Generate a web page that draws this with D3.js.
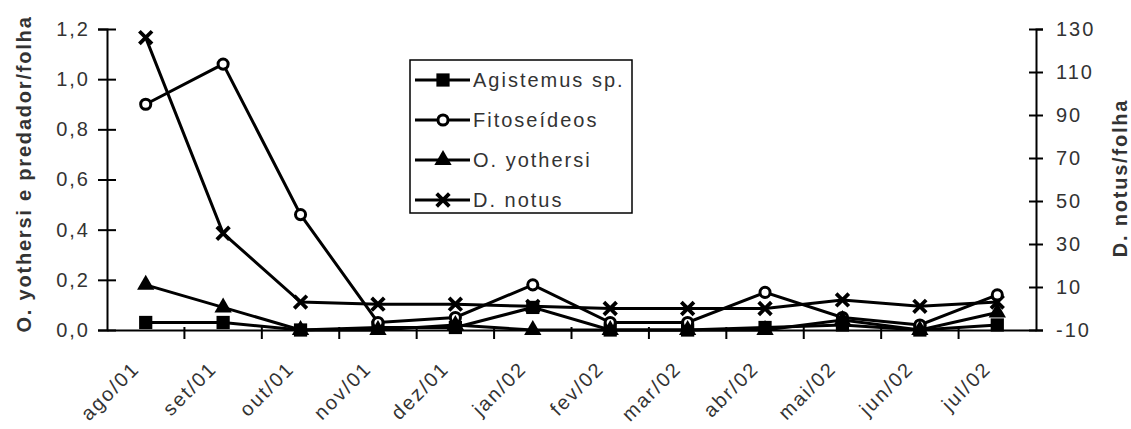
<!DOCTYPE html>
<html>
<head>
<meta charset="utf-8">
<script src="https://cdn.jsdelivr.net/npm/d3@7"></script>
<style>
  body { margin: 0; background: #fff; }
  text { font-family: "Liberation Sans", Arial, sans-serif; fill: #333; }
</style>
</head>
<body>
<script>
const width = 1131;
const height = 429;

const months = ["ago/01", "set/01", "out/01", "nov/01", "dez/01", "jan/02",
  "fev/02", "mar/02", "abr/02", "mai/02", "jun/02", "jul/02"];
const agistemus = [0.03, 0.03, 0.00, 0.01, 0.01, 0.09, 0.00, 0.00, 0.01, 0.02, 0.00, 0.02];
const fitoseideos = [0.90, 1.06, 0.46, 0.03, 0.05, 0.18, 0.03, 0.03, 0.15, 0.05, 0.02, 0.14];
const yothersi = [0.18, 0.09, 0.00, 0.00, 0.02, 0.00, 0.00, 0.00, 0.00, 0.04, 0.00, 0.07];
const notus = [126, 35, 3, 2, 2, 1, 0, 0, 0, 4, 1, 3];
const leftTicks = [0, 0.2, 0.4, 0.6, 0.8, 1.0, 1.2];
const rightTicks = [-10, 10, 30, 50, 70, 90, 110, 130];
const seriesNames = ["Agistemus sp.", "Fitoseídeos", "O. yothersi", "D. notus"];

const plotLeft = 107, plotRight = 1036, plotTop = 29, plotBottom = 330;

const svg = d3.select("body")
  .append("svg")
  .attr("width", width)
  .attr("height", height);

const x = d3.scaleBand().domain(months).range([plotLeft, plotRight]).padding(0);
const yL = d3.scaleLinear().domain([0, 1.2]).range([plotBottom, plotTop]);
const yR = d3.scaleLinear().domain([-10, 130]).range([plotBottom, plotTop]);
const cx = m => x(m) + x.bandwidth() / 2;

// custom X marker
const symbolX = {
  draw(ctx, size) {
    const r = Math.sqrt(size) / 2;
    ctx.moveTo(-r, -r); ctx.lineTo(r, r);
    ctx.moveTo(r, -r); ctx.lineTo(-r, r);
  }
};

const markers = {
  "Agistemus sp.": { path: d3.symbol(d3.symbolSquare, 175)(), fill: "#000", stroke: "none", sw: 0 },
  "Fitoseídeos": { path: d3.symbol(d3.symbolCircle, 80)(), fill: "#fff", stroke: "#000", sw: 3 },
  "O. yothersi": { path: d3.symbol(d3.symbolTriangle, 130)(), fill: "#000", stroke: "none", sw: 0 },
  "D. notus": { path: d3.symbol(symbolX, 160)(), fill: "none", stroke: "#000", sw: 3.8 }
};

const labelStyle = sel => sel
  .style("font-size", "20px")
  .style("letter-spacing", "2px")
  .style("font-family", "'Liberation Sans', Arial, sans-serif")
  .attr("fill", "#333");

// x axis
const xAxis = svg.append("g")
  .attr("transform", `translate(0,${plotBottom})`)
  .call(d3.axisBottom(x).tickSize(0).tickPadding(0));
xAxis.select(".domain").attr("stroke", "#000").attr("stroke-width", 2);
xAxis.selectAll("text")
  .attr("y", 0)
  .attr("dy", "0.35em")
  .attr("text-anchor", "end")
  .attr("transform", "translate(-10,35) rotate(-45)")
  .call(labelStyle);

svg.append("g")
  .selectAll("line")
  .data(months.slice(1))
  .join("line")
  .attr("x1", d => x(d)).attr("x2", d => x(d))
  .attr("y1", plotBottom - 3).attr("y2", plotBottom + 9)
  .attr("stroke", "#000").attr("stroke-width", 2);

// left axis
const fmt = d3.format(".1f");
const axL = svg.append("g")
  .attr("transform", `translate(${plotLeft},0)`)
  .call(d3.axisLeft(yL).tickValues(leftTicks).tickSize(9).tickPadding(8)
    .tickFormat(d => fmt(d).replace(".", ",")));
axL.select(".domain").attr("stroke", "#000").attr("stroke-width", 2);
axL.selectAll(".tick line").attr("x1", 9).attr("stroke", "#000").attr("stroke-width", 2);
axL.selectAll("text").call(labelStyle);

// right axis
const axR = svg.append("g")
  .attr("transform", `translate(${plotRight},0)`)
  .call(d3.axisRight(yR).tickValues(rightTicks).tickSize(7).tickPadding(13)
    .tickFormat(d => String(d)));
axR.select(".domain").attr("stroke", "#000").attr("stroke-width", 2);
axR.selectAll(".tick line").attr("x1", -7).attr("stroke", "#000").attr("stroke-width", 2);
axR.selectAll("text").call(labelStyle);

// axis titles
svg.append("text")
  .attr("transform", "translate(31,174) rotate(-90)")
  .attr("text-anchor", "middle")
  .style("font-size", "20px").style("font-weight", "bold").style("letter-spacing", "1.8px")
  .text("O. yothersi e predador/folha");

svg.append("text")
  .attr("transform", "translate(1127,178) rotate(-90)")
  .attr("text-anchor", "middle")
  .style("font-size", "20px").style("font-weight", "bold").style("letter-spacing", "1.8px")
  .text("D. notus/folha");

// series: secondary axis drawn first, primary on top
const series = [
  { name: "D. notus", values: notus, y: yR },
  { name: "Agistemus sp.", values: agistemus, y: yL },
  { name: "Fitoseídeos", values: fitoseideos, y: yL },
  { name: "O. yothersi", values: yothersi, y: yL }
];

series.forEach(s => {
  const pts = months.map((m, i) => [cx(m), s.y(s.values[i])]);
  svg.append("path")
    .datum(pts)
    .attr("fill", "none")
    .attr("stroke", "#000")
    .attr("stroke-width", 3)
    .attr("d", d3.line());
  const mk = markers[s.name];
  svg.append("g")
    .selectAll("path")
    .data(pts)
    .join("path")
    .attr("transform", d => `translate(${d[0]},${d[1]})`)
    .attr("d", mk.path)
    .attr("fill", mk.fill)
    .attr("stroke", mk.stroke)
    .attr("stroke-width", mk.sw);
});

// legend
const legend = svg.append("g");
legend.append("rect")
  .attr("x", 410).attr("y", 60)
  .attr("width", 222).attr("height", 153)
  .attr("fill", "#fff").attr("stroke", "#000").attr("stroke-width", 1.5);

const rows = legend.selectAll("g.row")
  .data(seriesNames)
  .join("g")
  .attr("class", "row")
  .attr("transform", (d, i) => `translate(0,${80 + i * 40})`);

rows.append("line")
  .attr("x1", 415).attr("x2", 470)
  .attr("stroke", "#000").attr("stroke-width", 3);

rows.append("path")
  .attr("transform", "translate(443,0)")
  .attr("d", d => markers[d].path)
  .attr("fill", d => markers[d].fill)
  .attr("stroke", d => markers[d].stroke)
  .attr("stroke-width", d => markers[d].sw);

rows.append("text")
  .attr("x", 473)
  .attr("dy", "0.35em")
  .call(labelStyle)
  .text(d => d);
</script>
</body>
</html>
